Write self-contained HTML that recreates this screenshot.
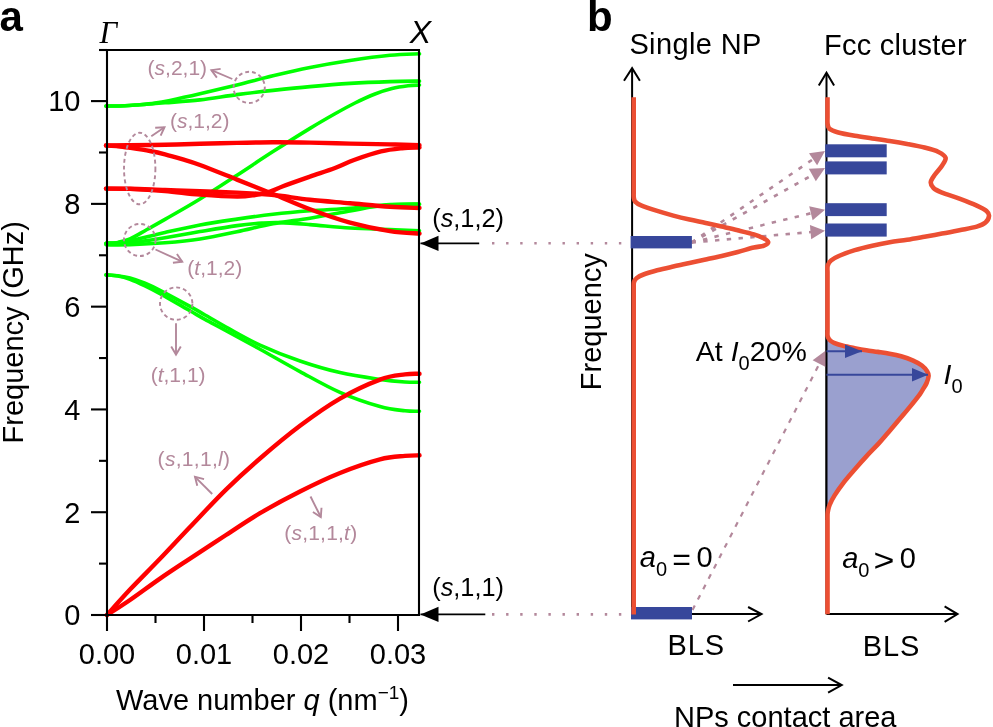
<!DOCTYPE html>
<html><head><meta charset="utf-8"><title>figure</title>
<style>html,body{margin:0;padding:0;background:#fff;overflow:hidden;}svg{display:block;will-change:transform;}</style>
</head><body>
<svg width="993" height="727" viewBox="0 0 993 727">
<rect width="993" height="727" fill="#fff"/>
<path d="M106,106.1 C109.17,106.03 119.33,105.93 125,105.7 C130.67,105.47 135,105.13 140,104.7 C145,104.27 150,103.82 155,103.1 C160,102.38 162.5,101.95 170,100.4 C177.5,98.85 188.83,96.37 200,93.8 C211.17,91.23 224.83,88 237,85 C249.17,82 260.83,78.72 273,75.8 C285.17,72.88 297.17,70.05 310,67.5 C322.83,64.95 336.67,62.53 350,60.5 C363.33,58.47 378.42,56.42 390,55.3 C401.58,54.18 414.58,54.05 419.5,53.8" fill="none" stroke="#00ff00" stroke-width="3.6" stroke-linecap="round" stroke-linejoin="round"/>
<path d="M106,106.1 C109.17,106.03 119.33,105.93 125,105.7 C130.67,105.47 133.33,105.18 140,104.7 C146.67,104.22 155,103.6 165,102.8 C175,102 188,101.27 200,99.9 C212,98.53 224.83,96.18 237,94.6 C249.17,93.02 260.83,91.73 273,90.4 C285.17,89.07 297.17,87.77 310,86.6 C322.83,85.43 336.67,84.23 350,83.4 C363.33,82.57 378.42,81.98 390,81.6 C401.58,81.22 414.58,81.18 419.5,81.1" fill="none" stroke="#00ff00" stroke-width="3.6" stroke-linecap="round" stroke-linejoin="round"/>
<path d="M106,243.2 C108,243.07 114,243.1 118,242.4 C122,241.7 125.17,241.15 130,239 C134.83,236.85 141.17,232.77 147,229.5 C152.83,226.23 156.17,224.48 165,219.4 C173.83,214.32 188,206.37 200,199 C212,191.63 224.83,183.1 237,175.2 C249.17,167.3 260.83,159.4 273,151.6 C285.17,143.8 299.67,134.7 310,128.4 C320.33,122.1 327.5,118.03 335,113.8 C342.5,109.57 348.33,106.3 355,103 C361.67,99.7 368.83,96.4 375,94 C381.17,91.6 386.5,89.97 392,88.6 C397.5,87.23 403.42,86.4 408,85.8 C412.58,85.2 417.58,85.13 419.5,85" fill="none" stroke="#00ff00" stroke-width="3.6" stroke-linecap="round" stroke-linejoin="round"/>
<path d="M106,243.2 C108.33,243.1 115.17,243.2 120,242.6 C124.83,242 127.5,241.3 135,239.6 C142.5,237.9 154.17,234.85 165,232.4 C175.83,229.95 188,227.12 200,224.9 C212,222.68 224.83,220.87 237,219.1 C249.17,217.33 260.83,215.68 273,214.3 C285.17,212.92 297.17,211.82 310,210.8 C322.83,209.78 336.67,209.23 350,208.2 C363.33,207.17 378.42,205.3 390,204.6 C401.58,203.9 414.58,204.1 419.5,204" fill="none" stroke="#00ff00" stroke-width="3.6" stroke-linecap="round" stroke-linejoin="round"/>
<path d="M106,244 C109.17,243.88 119.33,243.7 125,243.3 C130.67,242.9 133.33,242.52 140,241.6 C146.67,240.68 155,239.47 165,237.8 C175,236.13 188,233.63 200,231.6 C212,229.57 226.67,227.02 237,225.6 C247.33,224.18 254.83,223.6 262,223.1 C269.17,222.6 272,222.35 280,222.6 C288,222.85 298.33,223.7 310,224.6 C321.67,225.5 336.67,227.17 350,228 C363.33,228.83 378.42,229.13 390,229.6 C401.58,230.07 414.58,230.6 419.5,230.8" fill="none" stroke="#00ff00" stroke-width="3.6" stroke-linecap="round" stroke-linejoin="round"/>
<path d="M106,244.8 C110,244.78 120.17,245.03 130,244.7 C139.83,244.37 153.33,243.75 165,242.8 C176.67,241.85 188,240.83 200,239 C212,237.17 224.83,234.33 237,231.8 C249.17,229.27 260.83,226.07 273,223.8 C285.17,221.53 297.17,220.33 310,218.2 C322.83,216.07 339.67,212.87 350,211 C360.33,209.13 365,208.03 372,207 C379,205.97 384.08,205.25 392,204.8 C399.92,204.35 414.92,204.38 419.5,204.3" fill="none" stroke="#00ff00" stroke-width="3.6" stroke-linecap="round" stroke-linejoin="round"/>
<path d="M106,274.9 C108,275.05 114,275.3 118,275.8 C122,276.3 125.5,276.67 130,277.9 C134.5,279.13 140,281.13 145,283.2 C150,285.27 152.5,286.43 160,290.3 C167.5,294.17 182.5,302.28 190,306.4 C197.5,310.52 199,311.57 205,315 C211,318.43 216.83,321.98 226,327 C235.17,332.02 247.67,339.43 260,345.1 C272.33,350.77 286.67,356.42 300,361 C313.33,365.58 326.67,369.53 340,372.6 C353.33,375.67 369.17,377.83 380,379.4 C390.83,380.97 398.42,381.52 405,382 C411.58,382.48 417.08,382.25 419.5,382.3" fill="none" stroke="#00ff00" stroke-width="3.6" stroke-linecap="round" stroke-linejoin="round"/>
<path d="M106,274.9 C108,275.07 114,275.18 118,275.9 C122,276.62 125.5,277.55 130,279.2 C134.5,280.85 140,283.4 145,285.8 C150,288.2 152.5,289.43 160,293.6 C167.5,297.77 182.5,306.5 190,310.8 C197.5,315.1 199,316.1 205,319.4 C211,322.7 216.83,325.63 226,330.6 C235.17,335.57 247.67,342.37 260,349.2 C272.33,356.03 286.67,364.4 300,371.6 C313.33,378.8 326.67,386.57 340,392.4 C353.33,398.23 369.17,403.53 380,406.6 C390.83,409.67 398.42,410.02 405,410.8 C411.58,411.58 417.08,411.22 419.5,411.3" fill="none" stroke="#00ff00" stroke-width="3.6" stroke-linecap="round" stroke-linejoin="round"/>
<path d="M107,615 C110.83,610.77 121.17,598.97 130,589.6 C138.83,580.23 150,569.23 160,558.8 C170,548.37 179,538.53 190,527 C201,515.47 214.33,501.02 226,489.6 C237.67,478.18 247.67,469.13 260,458.5 C272.33,447.87 286.67,435.78 300,425.8 C313.33,415.82 326.67,406.3 340,398.6 C353.33,390.9 369.17,383.63 380,379.6 C390.83,375.57 398.42,375.37 405,374.4 C411.58,373.43 417.08,373.9 419.5,373.8" fill="none" stroke="#ff0000" stroke-width="4.4" stroke-linecap="round" stroke-linejoin="round"/>
<path d="M107,615 C110.83,612.5 121.17,606.07 130,600 C138.83,593.93 150,585.5 160,578.6 C170,571.7 179,565.87 190,558.6 C201,551.33 214.33,542.57 226,535 C237.67,527.43 247.67,520.45 260,513.2 C272.33,505.95 286.67,498.2 300,491.5 C313.33,484.8 326.67,478.35 340,473 C353.33,467.65 369.17,462.25 380,459.4 C390.83,456.55 398.42,456.58 405,455.9 C411.58,455.22 417.08,455.4 419.5,455.3" fill="none" stroke="#ff0000" stroke-width="4.4" stroke-linecap="round" stroke-linejoin="round"/>
<path d="M106,145.5 C110,145.47 120.17,145.42 130,145.3 C139.83,145.18 153.33,145.07 165,144.8 C176.67,144.53 188,144.02 200,143.7 C212,143.38 224.83,143.13 237,142.9 C249.17,142.67 260.83,142.35 273,142.3 C285.17,142.25 297.17,142.38 310,142.6 C322.83,142.82 336.67,143.3 350,143.6 C363.33,143.9 378.42,144.12 390,144.4 C401.58,144.68 414.58,145.15 419.5,145.3" fill="none" stroke="#ff0000" stroke-width="4.4" stroke-linecap="round" stroke-linejoin="round"/>
<path d="M106,145.5 C108,145.62 114,145.82 118,146.2 C122,146.58 124.67,147 130,147.8 C135.33,148.6 144.17,149.92 150,151 C155.83,152.08 159.67,152.93 165,154.3 C170.33,155.67 176.17,157.42 182,159.2 C187.83,160.98 190.83,161.6 200,165 C209.17,168.4 224.83,174.77 237,179.6 C249.17,184.43 260.83,189.05 273,194 C285.17,198.95 297.17,204.52 310,209.3 C322.83,214.08 336.67,219.05 350,222.7 C363.33,226.35 378.42,229.38 390,231.2 C401.58,233.02 414.58,233.2 419.5,233.6" fill="none" stroke="#ff0000" stroke-width="4.4" stroke-linecap="round" stroke-linejoin="round"/>
<path d="M106,188.6 C110,188.65 120.17,188.5 130,188.9 C139.83,189.3 153.33,190.05 165,191 C176.67,191.95 188,193.67 200,194.6 C212,195.53 227.83,196.53 237,196.6 C246.17,196.67 249.5,195.83 255,195 C260.5,194.17 265.33,193.07 270,191.6 C274.67,190.13 276.33,188.7 283,186.2 C289.67,183.7 301.33,179.63 310,176.6 C318.67,173.57 327.67,170.77 335,168 C342.33,165.23 346.33,162.77 354,160 C361.67,157.23 373,153.37 381,151.4 C389,149.43 395.58,148.85 402,148.2 C408.42,147.55 416.58,147.62 419.5,147.5" fill="none" stroke="#ff0000" stroke-width="4.4" stroke-linecap="round" stroke-linejoin="round"/>
<path d="M106,188.6 C110,188.62 120.17,188.47 130,188.7 C139.83,188.93 153.33,189.58 165,190 C176.67,190.42 188,190.77 200,191.2 C212,191.63 227,192.13 237,192.6 C247,193.07 252.83,193.47 260,194 C267.17,194.53 271.67,194.83 280,195.8 C288.33,196.77 298.33,198.55 310,199.8 C321.67,201.05 336.67,202.13 350,203.3 C363.33,204.47 378.42,206.02 390,206.8 C401.58,207.58 414.58,207.8 419.5,208" fill="none" stroke="#ff0000" stroke-width="4.4" stroke-linecap="round" stroke-linejoin="round"/>
<g stroke="#000" stroke-width="2.1" fill="none" stroke-linecap="butt">
<path d="M107,50 H419 V615 H107 Z"/>
<line x1="91" y1="615" x2="107" y2="615"/>
<line x1="99" y1="563.61" x2="107" y2="563.61"/>
<line x1="91" y1="512.22" x2="107" y2="512.22"/>
<line x1="99" y1="460.83" x2="107" y2="460.83"/>
<line x1="91" y1="409.44" x2="107" y2="409.44"/>
<line x1="99" y1="358.05" x2="107" y2="358.05"/>
<line x1="91" y1="306.66" x2="107" y2="306.66"/>
<line x1="99" y1="255.27" x2="107" y2="255.27"/>
<line x1="91" y1="203.88" x2="107" y2="203.88"/>
<line x1="99" y1="152.49" x2="107" y2="152.49"/>
<line x1="91" y1="101.1" x2="107" y2="101.1"/>
<line x1="99" y1="50" x2="107" y2="50"/>
<line x1="107" y1="615" x2="107" y2="631"/>
<line x1="155.5" y1="615" x2="155.5" y2="623"/>
<line x1="204" y1="615" x2="204" y2="631"/>
<line x1="252.5" y1="615" x2="252.5" y2="623"/>
<line x1="301" y1="615" x2="301" y2="631"/>
<line x1="349.5" y1="615" x2="349.5" y2="623"/>
<line x1="398" y1="615" x2="398" y2="631"/>
</g>
<text x="80.5" y="625.3" font-family='"Liberation Sans", sans-serif' font-size="29" fill="#000" text-anchor="end">0</text>
<text x="80.5" y="522.52" font-family='"Liberation Sans", sans-serif' font-size="29" fill="#000" text-anchor="end">2</text>
<text x="80.5" y="419.74" font-family='"Liberation Sans", sans-serif' font-size="29" fill="#000" text-anchor="end">4</text>
<text x="80.5" y="316.96" font-family='"Liberation Sans", sans-serif' font-size="29" fill="#000" text-anchor="end">6</text>
<text x="80.5" y="214.18" font-family='"Liberation Sans", sans-serif' font-size="29" fill="#000" text-anchor="end">8</text>
<text x="80.5" y="111.4" font-family='"Liberation Sans", sans-serif' font-size="29" fill="#000" text-anchor="end">10</text>
<text x="107" y="664.3" font-family='"Liberation Sans", sans-serif' font-size="29" fill="#000" text-anchor="middle">0.00</text>
<text x="204" y="664.3" font-family='"Liberation Sans", sans-serif' font-size="29" fill="#000" text-anchor="middle">0.01</text>
<text x="301" y="664.3" font-family='"Liberation Sans", sans-serif' font-size="29" fill="#000" text-anchor="middle">0.02</text>
<text x="398" y="664.3" font-family='"Liberation Sans", sans-serif' font-size="29" fill="#000" text-anchor="middle">0.03</text>
<text x="262.5" y="710" font-family='"Liberation Sans", sans-serif' font-size="29" fill="#000" text-anchor="middle">Wave number <tspan font-style="italic">q</tspan> (nm<tspan font-size="19" dy="-11">−1</tspan><tspan dy="11">)</tspan></text>
<text transform="translate(23.2,332.3) rotate(-90)" font-family='"Liberation Sans", sans-serif' font-size="29" text-anchor="middle" fill="#000">Frequency (GHz)</text>
<text x="-0.5" y="31.2" font-family='"Liberation Sans", sans-serif' font-size="42" fill="#000" text-anchor="start" font-weight="bold">a</text>
<text x="99.6" y="42.7" font-family='"Liberation Serif", serif' font-size="31" fill="#000" text-anchor="start" font-style="italic">Γ</text>
<text x="409.8" y="42.6" font-family='"Liberation Sans", sans-serif' font-size="32" fill="#000" text-anchor="start" font-style="italic">X</text>
<ellipse cx="249.2" cy="87.4" rx="15.6" ry="15.6" fill="none" stroke="#b3889b" stroke-width="1.9" stroke-dasharray="3.9 3.0"/>
<ellipse cx="139.7" cy="168.5" rx="15.7" ry="35.8" fill="none" stroke="#b3889b" stroke-width="1.9" stroke-dasharray="3.9 3.0"/>
<ellipse cx="139.8" cy="240" rx="15.8" ry="16" fill="none" stroke="#b3889b" stroke-width="1.9" stroke-dasharray="3.9 3.0"/>
<ellipse cx="176.2" cy="303.6" rx="16.2" ry="16.2" fill="none" stroke="#b3889b" stroke-width="1.9" stroke-dasharray="3.9 3.0"/>
<line x1="232.3" y1="79" x2="211.4" y2="70.1" stroke="#b3889b" stroke-width="1.9"/><polyline points="220.64,68.82 211.4,70.1 216.88,77.65" fill="none" stroke="#b3889b" stroke-width="1.9" stroke-linejoin="miter" stroke-linecap="butt"/>
<line x1="151.3" y1="136.3" x2="164.5" y2="127.2" stroke="#b3889b" stroke-width="1.9"/><polyline points="160.64,135.69 164.5,127.2 155.19,127.79" fill="none" stroke="#b3889b" stroke-width="1.9" stroke-linejoin="miter" stroke-linecap="butt"/>
<line x1="155.5" y1="249.5" x2="182.2" y2="261.7" stroke="#b3889b" stroke-width="1.9"/><polyline points="172.93,262.74 182.2,261.7 176.92,254.01" fill="none" stroke="#b3889b" stroke-width="1.9" stroke-linejoin="miter" stroke-linecap="butt"/>
<line x1="176" y1="323.3" x2="176" y2="354.6" stroke="#b3889b" stroke-width="1.9"/><polyline points="171.2,346.6 176,354.6 180.8,346.6" fill="none" stroke="#b3889b" stroke-width="1.9" stroke-linejoin="miter" stroke-linecap="butt"/>
<line x1="212.2" y1="494" x2="195" y2="476.8" stroke="#b3889b" stroke-width="1.9"/><polyline points="204.05,479.06 195,476.8 197.26,485.85" fill="none" stroke="#b3889b" stroke-width="1.9" stroke-linejoin="miter" stroke-linecap="butt"/>
<line x1="310.5" y1="496.5" x2="320.8" y2="517" stroke="#b3889b" stroke-width="1.9"/><polyline points="312.92,512.01 320.8,517 321.5,507.7" fill="none" stroke="#b3889b" stroke-width="1.9" stroke-linejoin="miter" stroke-linecap="butt"/>
<text x="147.6" y="75.4" font-family='"Liberation Sans", sans-serif' font-size="21" fill="#b3889b" text-anchor="start">(<tspan font-style="italic">s</tspan>,2,1)</text>
<text x="170" y="128.4" font-family='"Liberation Sans", sans-serif' font-size="21" fill="#b3889b" text-anchor="start">(<tspan font-style="italic">s</tspan>,1,2)</text>
<text x="187.3" y="275" font-family='"Liberation Sans", sans-serif' font-size="21" fill="#b3889b" text-anchor="start">(<tspan font-style="italic">t</tspan>,1,2)</text>
<text x="150.7" y="382.2" font-family='"Liberation Sans", sans-serif' font-size="21" fill="#b3889b" text-anchor="start">(<tspan font-style="italic">t</tspan>,1,1)</text>
<text x="157.6" y="466.3" font-family='"Liberation Sans", sans-serif' font-size="21" fill="#b3889b" text-anchor="start" letter-spacing="0.3">(<tspan font-style="italic">s</tspan>,1,1,<tspan font-style="italic">l</tspan>)</text>
<text x="284.3" y="540" font-family='"Liberation Sans", sans-serif' font-size="21" fill="#b3889b" text-anchor="start" letter-spacing="0.2">(<tspan font-style="italic">s</tspan>,1,1,<tspan font-style="italic">t</tspan>)</text>
<text x="432.2" y="226.6" font-family='"Liberation Sans", sans-serif' font-size="25.3" fill="#000" text-anchor="start">(<tspan font-style="italic">s</tspan>,1,2)</text>
<text x="432.2" y="596.4" font-family='"Liberation Sans", sans-serif' font-size="25.3" fill="#000" text-anchor="start">(<tspan font-style="italic">s</tspan>,1,1)</text>
<line x1="479.2" y1="243.4" x2="420.5" y2="243.4" stroke="#000" stroke-width="1.8"/><polygon points="420.5,243.4 438.5,235.84 438.5,250.96" fill="#000"/>
<line x1="485.3" y1="614.4" x2="420.5" y2="614.4" stroke="#000" stroke-width="1.8"/><polygon points="420.5,614.4 438.5,606.84 438.5,621.96" fill="#000"/>
<line x1="492" y1="243.3" x2="622" y2="243.3" stroke="#b3889b" stroke-width="2.6" stroke-dasharray="2.4 11.7"/>
<line x1="492" y1="614.4" x2="622" y2="614.4" stroke="#b3889b" stroke-width="2.6" stroke-dasharray="2.4 11.7"/>
<text x="587" y="30.8" font-family='"Liberation Sans", sans-serif' font-size="42" fill="#000" text-anchor="start" font-weight="bold">b</text>
<text x="629.4" y="54.4" font-family='"Liberation Sans", sans-serif' font-size="29" fill="#000" text-anchor="start" letter-spacing="0.38">Single NP</text>
<text x="824" y="54.6" font-family='"Liberation Sans", sans-serif' font-size="29" fill="#000" text-anchor="start" letter-spacing="0.24">Fcc cluster</text>
<text transform="translate(600.8,321.7) rotate(-90)" font-family='"Liberation Sans", sans-serif' font-size="29" text-anchor="middle" fill="#000">Frequency</text>
<g stroke="#000" stroke-width="2" fill="none">
<line x1="632.1" y1="69" x2="632.1" y2="614.4"/>
<polyline points="624,80.8 632.1,68.2 639.9,80.8"/>
<line x1="632.1" y1="614" x2="761" y2="614"/>
<polyline points="748.1,607 761.5,614 748.1,621.5"/>
<line x1="826.5" y1="73.5" x2="826.5" y2="614.3"/>
<polyline points="818.8,85.6 826.5,72.7 834.1,85.6"/>
<line x1="826.5" y1="614.1" x2="957" y2="614.1"/>
<polyline points="944.6,606.4 957.5,614.1 944.6,621.9"/>
<line x1="733" y1="685" x2="841" y2="685"/>
<polyline points="828.1,677.7 841.7,685 828.1,692.6"/>
</g>
<line x1="691.5" y1="242.5" x2="813.86" y2="158.63" stroke="#b3889b" stroke-width="2.6" stroke-dasharray="4.4 7.4"/><polygon points="825,151 817.11,165.14 808.97,153.26" fill="#b3889b"/>
<line x1="691.5" y1="242.5" x2="813.21" y2="174.58" stroke="#b3889b" stroke-width="2.6" stroke-dasharray="4.4 7.4"/><polygon points="825,168 815.85,181.35 808.83,168.78" fill="#b3889b"/>
<line x1="691.5" y1="242.5" x2="811.89" y2="213.01" stroke="#b3889b" stroke-width="2.6" stroke-dasharray="4.4 7.4"/><polygon points="825,209.8 812.63,220.24 809.2,206.26" fill="#b3889b"/>
<line x1="691.5" y1="242.5" x2="811.55" y2="231.98" stroke="#b3889b" stroke-width="2.6" stroke-dasharray="4.4 7.4"/><polygon points="825,230.8 811.18,239.24 809.93,224.89" fill="#b3889b"/>
<line x1="692.5" y1="610" x2="819.86" y2="362.89" stroke="#b3889b" stroke-width="2.2" stroke-dasharray="5 6.7"/><polygon points="826.5,350 826.15,367.26 812.64,360.3" fill="#b3889b"/>
<path d="M827.5,331 C827.52,331.83 827.27,334.53 827.6,336 C827.93,337.47 828.43,338.65 829.5,339.8 C830.57,340.95 831.72,341.9 834,342.9 C836.28,343.9 839.75,344.92 843.2,345.8 C846.65,346.68 850.85,347.45 854.7,348.2 C858.55,348.95 862.43,349.68 866.3,350.3 C870.17,350.92 874.03,351.33 877.9,351.9 C881.77,352.47 885.63,352.97 889.5,353.7 C893.37,354.43 897.25,355.2 901.1,356.3 C904.95,357.4 909.13,358.77 912.6,360.3 C916.07,361.83 919.48,363.67 921.9,365.5 C924.32,367.33 925.98,369.55 927.1,371.3 C928.22,373.05 928.68,374.05 928.6,376 C928.52,377.95 927.48,380.9 926.6,383 C925.72,385.1 924.47,386.67 923.3,388.6 C922.13,390.53 921.87,391.52 919.6,394.6 C917.33,397.68 913.1,402.95 909.7,407.1 C906.3,411.25 902.7,415.37 899.2,419.5 C895.7,423.63 892.07,427.97 888.7,431.9 C885.33,435.83 882.68,439.07 879,443.1 C875.32,447.13 870.62,451.75 866.6,456.1 C862.58,460.45 858.7,464.83 854.9,469.2 C851.1,473.57 847.18,477.93 843.8,482.3 C840.42,486.67 836.97,491.62 834.6,495.4 C832.23,499.18 830.75,502.15 829.6,505 C828.45,507.85 828.05,510.17 827.7,512.5 C827.35,514.83 827.53,517.92 827.5,519 L826.5,519 L826.5,331 Z" fill="#9aa0cf" stroke="none"/>
<line x1="826.5" y1="330" x2="826.5" y2="520" stroke="#000" stroke-width="2"/>
<rect x="630.6" y="236" width="61.3" height="12.4" fill="#37479b"/>
<rect x="631" y="607" width="61" height="12.4" fill="#37479b"/>
<rect x="825.2" y="144.3" width="61.5" height="13" fill="#37479b"/>
<rect x="825.2" y="161.4" width="61.5" height="13" fill="#37479b"/>
<rect x="825.2" y="203.2" width="61.5" height="12.9" fill="#37479b"/>
<rect x="825.2" y="223.5" width="61.5" height="13.1" fill="#37479b"/>
<path d="M633.7,97.2 L633.7,192 C633.72,192.92 633.55,195.9 633.8,197.5 C634.05,199.1 633.98,200.28 635.2,201.6 C636.42,202.92 637.43,203.85 641.1,205.4 C644.77,206.95 651.83,209.2 657.2,210.9 C662.57,212.6 667.92,214.15 673.3,215.6 C678.68,217.05 684.12,218.37 689.5,219.6 C694.88,220.83 700.23,221.83 705.6,223 C710.97,224.17 716.33,225.38 721.7,226.6 C727.07,227.82 732.43,229 737.8,230.3 C743.17,231.6 749.7,233.12 753.9,234.4 C758.1,235.68 760.62,236.73 763,238 C765.38,239.27 768.03,240.73 768.2,242 C768.37,243.27 766.38,244.67 764,245.6 C761.62,246.53 758.27,246.55 753.9,247.6 C749.53,248.65 743.17,250.52 737.8,251.9 C732.43,253.28 727.07,254.63 721.7,255.9 C716.33,257.17 710.97,258.32 705.6,259.5 C700.23,260.68 694.88,261.83 689.5,263 C684.12,264.17 678.68,265.28 673.3,266.5 C667.92,267.72 662.17,268.97 657.2,270.3 C652.23,271.63 646.9,273.22 643.5,274.5 C640.1,275.78 638.38,276.75 636.8,278 C635.22,279.25 634.52,280.33 634,282 C633.48,283.67 633.75,287 633.7,288 L633.7,614.5" fill="none" stroke="#ec4f33" stroke-width="4.6" stroke-linejoin="round"/>
<path d="M827.5,97.2 L827.5,118 C827.52,119 827.27,122.2 827.6,124 C827.93,125.8 827.87,127.43 829.5,128.8 C831.13,130.17 833.18,131.03 837.4,132.2 C841.62,133.37 848.98,134.77 854.8,135.8 C860.62,136.83 866.48,137.53 872.3,138.4 C878.12,139.27 883.9,140.07 889.7,141 C895.5,141.93 901.3,142.9 907.1,144 C912.9,145.1 919.27,146.27 924.5,147.6 C929.73,148.93 934.98,150.28 938.5,152 C942.02,153.72 945.02,155.62 945.6,157.9 C946.18,160.18 943.77,162.93 942,165.7 C940.23,168.47 936.87,171.78 935,174.5 C933.13,177.22 931.05,179.75 930.8,182 C930.55,184.25 931.63,186.23 933.5,188 C935.37,189.77 937.68,190.83 942,192.6 C946.32,194.37 953.6,196.43 959.4,198.6 C965.2,200.77 972.28,203.53 976.8,205.6 C981.32,207.67 984.47,209.27 986.5,211 C988.53,212.73 989.17,214.07 989,216 C988.83,217.93 987.53,220.83 985.5,222.6 C983.47,224.37 981.15,225.33 976.8,226.6 C972.45,227.87 965.2,229.03 959.4,230.2 C953.6,231.37 947.82,232.52 942,233.6 C936.18,234.68 930.32,235.68 924.5,236.7 C918.68,237.72 912.9,238.77 907.1,239.7 C901.3,240.63 895.5,241.3 889.7,242.3 C883.9,243.3 878.12,244.4 872.3,245.7 C866.48,247 860.18,248.47 854.8,250.1 C849.42,251.73 843.97,253.77 840,255.5 C836.03,257.23 833.05,258.83 831,260.5 C828.95,262.17 828.28,263.58 827.7,265.5 C827.12,267.42 827.53,270.92 827.5,272 L827.5,331 C827.52,331.83 827.27,334.53 827.6,336 C827.93,337.47 828.43,338.65 829.5,339.8 C830.57,340.95 831.72,341.9 834,342.9 C836.28,343.9 839.75,344.92 843.2,345.8 C846.65,346.68 850.85,347.45 854.7,348.2 C858.55,348.95 862.43,349.68 866.3,350.3 C870.17,350.92 874.03,351.33 877.9,351.9 C881.77,352.47 885.63,352.97 889.5,353.7 C893.37,354.43 897.25,355.2 901.1,356.3 C904.95,357.4 909.13,358.77 912.6,360.3 C916.07,361.83 919.48,363.67 921.9,365.5 C924.32,367.33 925.98,369.55 927.1,371.3 C928.22,373.05 928.68,374.05 928.6,376 C928.52,377.95 927.48,380.9 926.6,383 C925.72,385.1 924.47,386.67 923.3,388.6 C922.13,390.53 921.87,391.52 919.6,394.6 C917.33,397.68 913.1,402.95 909.7,407.1 C906.3,411.25 902.7,415.37 899.2,419.5 C895.7,423.63 892.07,427.97 888.7,431.9 C885.33,435.83 882.68,439.07 879,443.1 C875.32,447.13 870.62,451.75 866.6,456.1 C862.58,460.45 858.7,464.83 854.9,469.2 C851.1,473.57 847.18,477.93 843.8,482.3 C840.42,486.67 836.97,491.62 834.6,495.4 C832.23,499.18 830.75,502.15 829.6,505 C828.45,507.85 828.05,510.17 827.7,512.5 C827.35,514.83 827.53,517.92 827.5,519 L827.5,614.3" fill="none" stroke="#ec4f33" stroke-width="4.6" stroke-linejoin="round"/>
<line x1="826.5" y1="351.3" x2="862" y2="351.3" stroke="#37479b" stroke-width="2"/><polygon points="862,351.3 845,358.1 845,344.5" fill="#37479b"/>
<line x1="826.5" y1="374.7" x2="928" y2="374.7" stroke="#37479b" stroke-width="2"/><polygon points="928,374.7 912,381.42 912,367.98" fill="#37479b"/>
<text x="695.8" y="360.8" font-family='"Liberation Sans", sans-serif' font-size="28.5" fill="#000" text-anchor="start">At <tspan font-style="italic">I</tspan><tspan font-size="20" dy="8.8">0</tspan><tspan dy="-8.8">20%</tspan></text>
<text x="943.5" y="384.3" font-family='"Liberation Sans", sans-serif' font-size="28.5" fill="#000" text-anchor="start"><tspan font-style="italic">I</tspan><tspan font-size="20" dy="8.6">0</tspan></text>
<text x="639.8" y="566.6" font-family='"Liberation Sans", sans-serif' font-size="29" fill="#000" text-anchor="start"><tspan font-style="italic">a</tspan><tspan font-size="20" dy="9.3">0</tspan></text>
<text x="672.2" y="569.6" font-family='"Liberation Sans", sans-serif' font-size="32" fill="#000" text-anchor="start">=</text>
<text x="696.6" y="566.8" font-family='"Liberation Sans", sans-serif' font-size="29" fill="#000" text-anchor="start">0</text>
<text x="842.2" y="568" font-family='"Liberation Sans", sans-serif' font-size="29" fill="#000" text-anchor="start"><tspan font-style="italic">a</tspan><tspan font-size="20" dy="9.3">0</tspan></text>
<text x="873.4" y="571" font-family='"Liberation Sans", sans-serif' font-size="32" fill="#000" text-anchor="start" transform="translate(873.4,571) scale(1.12,1) translate(-873.4,-571)">&gt;</text>
<text x="899.8" y="568.4" font-family='"Liberation Sans", sans-serif' font-size="29" fill="#000" text-anchor="start">0</text>
<text x="667.5" y="655" font-family='"Liberation Sans", sans-serif' font-size="29" fill="#000" text-anchor="start" letter-spacing="0.9">BLS</text>
<text x="862.7" y="656.4" font-family='"Liberation Sans", sans-serif' font-size="29" fill="#000" text-anchor="start" letter-spacing="0.9">BLS</text>
<text x="674" y="727.3" font-family='"Liberation Sans", sans-serif' font-size="29" fill="#000" text-anchor="start">NPs contact area</text>
</svg>
</body></html>
